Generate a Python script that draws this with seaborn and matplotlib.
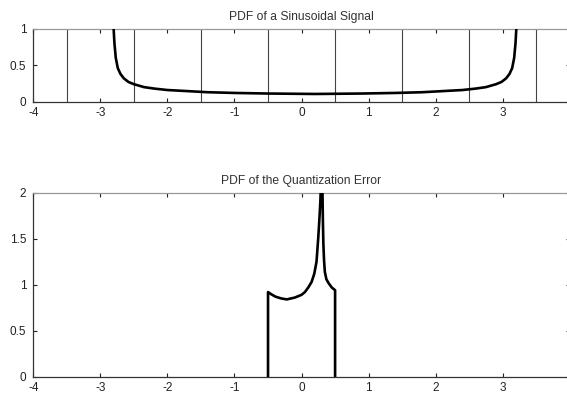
import matplotlib
matplotlib.use("Agg")
import matplotlib.pyplot as plt
import seaborn as sns
import pandas as pd

# ---- data ----
sin_x = [-2.805, -2.79, -2.77, -2.74, -2.70, -2.65, -2.58, -2.50, -2.35, -2.20,
         -2.00, -1.70, -1.40, -1.00, -0.50, 0.20, 0.90, 1.40, 1.80, 2.10,
         2.40, 2.60, 2.75, 2.90, 2.98, 3.05, 3.10, 3.14, 3.17, 3.19, 3.205]
sin_pdf = [1.05, 0.80, 0.60, 0.46, 0.38, 0.32, 0.27, 0.24, 0.20, 0.18,
           0.16, 0.145, 0.13, 0.12, 0.112, 0.106, 0.112, 0.12, 0.13, 0.145,
           0.16, 0.18, 0.20, 0.24, 0.27, 0.32, 0.38, 0.46, 0.60, 0.80, 1.05]
bin_edges = [-3.5, -2.5, -1.5, -0.5, 0.5, 1.5, 2.5, 3.5]

err_x = [-0.5, -0.5, -0.45, -0.39, -0.30, -0.22, -0.10, 0.00, 0.05, 0.10,
         0.15, 0.19, 0.223, 0.248, 0.265, 0.28, 0.29, 0.30, 0.31, 0.318,
         0.325, 0.335, 0.347, 0.37, 0.40, 0.45, 0.50, 0.50]
err_pdf = [0.0, 0.92, 0.895, 0.87, 0.85, 0.84, 0.86, 0.89, 0.92, 0.97,
           1.03, 1.12, 1.25, 1.50, 1.70, 1.90, 2.10, 2.30, 2.10, 1.70,
           1.45, 1.27, 1.14, 1.06, 1.02, 0.97, 0.94, 0.0]

x_ticks = [-4, -3, -2, -1, 0, 1, 2, 3, 4]
top_yticks = [0, 0.5, 1]
bot_yticks = [0, 0.5, 1, 1.5, 2]
titles = ["PDF of a Sinusoidal Signal", "PDF of the Quantization Error"]

sns.set_style("ticks")
plt.rcParams["font.family"] = ["Liberation Sans", "DejaVu Sans"]
plt.rcParams["axes.unicode_minus"] = False

fig = plt.figure(figsize=(5.67, 3.93), dpi=100)
ax1 = fig.add_axes([0.0587, 0.7412, 0.9463, 0.1858])
ax2 = fig.add_axes([0.0587, 0.0415, 0.9463, 0.4682])

df1 = pd.DataFrame({"x": sin_x, "y": sin_pdf})
df2 = pd.DataFrame({"x": err_x, "y": err_pdf})

for xe in bin_edges:
    ax1.axvline(xe, color="#444444", lw=0.8, zorder=1)

sns.lineplot(data=df1, x="x", y="y", ax=ax1, sort=False, estimator=None,
             color="black", lw=1.9, zorder=3)
sns.lineplot(data=df2, x="x", y="y", ax=ax2, sort=False, estimator=None,
             color="black", lw=1.9, zorder=3)

for ax, yt, title in [(ax1, top_yticks, titles[0]), (ax2, bot_yticks, titles[1])]:
    ax.set_xlim(-4, 4)
    ax.set_ylim(yt[0], yt[-1])
    ax.set_xticks(x_ticks)
    ax.set_yticks(yt)
    ax.set_xticklabels([f"{v:g}" for v in x_ticks])
    ax.set_yticklabels([f"{v:g}" for v in yt])
    ax.set_xlabel("")
    ax.set_ylabel("")
    ax.tick_params(direction="in", length=3, width=0.8, top=True, right=True,
                   labelsize=8.5, colors="#222222")
    ax.tick_params(axis="x", pad=4)
    ax.tick_params(axis="y", pad=5)
    for s in ["left", "bottom", "right"]:
        ax.spines[s].set_color("#333333")
        ax.spines[s].set_linewidth(0.9)
    ax.spines["top"].set_color("#999999")
    ax.spines["top"].set_linewidth(0.9)
    ax.set_title(title, fontsize=8.7, color="#333333", pad=6)

fig.savefig("out.png", dpi=100)
